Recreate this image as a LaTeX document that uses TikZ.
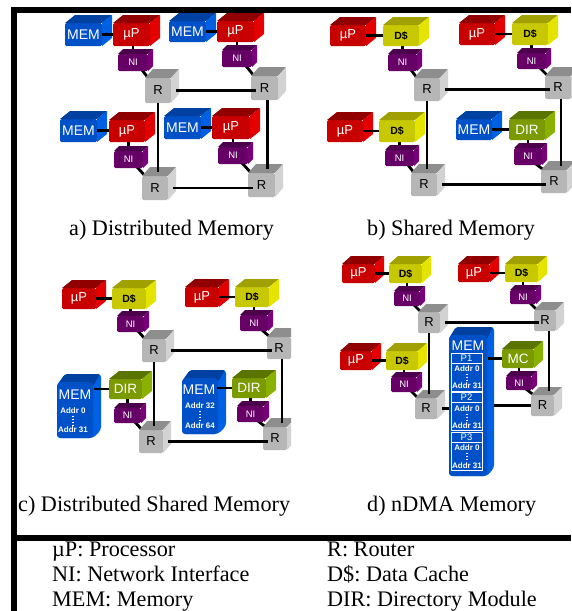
\documentclass[tikz,border=0pt]{standalone}
\usepackage{fontspec}
\setmainfont{Liberation Serif}
\newfontfamily\labfont{Liberation Sans}
\usetikzlibrary{backgrounds}
\definecolor{memF}{HTML}{0050C8}\definecolor{memT}{HTML}{0040A0}\definecolor{memS}{HTML}{0060E4}
\definecolor{upF}{HTML}{C80000}\definecolor{upT}{HTML}{900000}\definecolor{upS}{HTML}{E40000}
\definecolor{dcF}{HTML}{C8C800}\definecolor{dcT}{HTML}{A0A000}\definecolor{dcS}{HTML}{E4E400}
\definecolor{niF}{HTML}{660066}\definecolor{niT}{HTML}{4C004C}\definecolor{niS}{HTML}{780078}
\definecolor{rtF}{HTML}{B6B6B6}\definecolor{rtT}{HTML}{8E8E8E}\definecolor{rtS}{HTML}{D2D2D2}
\definecolor{dirF}{HTML}{7A9A00}\definecolor{dirT}{HTML}{5A7400}\definecolor{dirS}{HTML}{8AB000}
\tikzset{
  bxface/.style={inner sep=0pt,outer sep=0pt,rounded corners=1.5pt,anchor=north west,align=center},
  labmem/.style={text=white,font=\labfont\fontsize{14}{14}\selectfont},
  labup/.style={text=white,font=\labfont\fontsize{13}{13}\selectfont},
  labdir/.style={text=white,font=\labfont\fontsize{13.5}{14}\selectfont},
  labni/.style={text=white,font=\labfont\fontsize{9.5}{10}\selectfont},
  labrt/.style={text=black,font=\labfont\fontsize{13}{13}\selectfont},
  labdc/.style={text=black,font=\labfont\bfseries\fontsize{10.5}{10.5}\selectfont},
  addr/.style={text=white,inner sep=0pt,font=\labfont\bfseries\fontsize{8}{8}\selectfont},
  pbox/.style={draw=white,line width=0.8pt,inner sep=0pt,outer sep=0pt,text=white,font=\labfont\fontsize{9.5}{10}\selectfont},
  addrbox/.style={draw=white,line width=0.8pt,inner sep=0pt,outer sep=0pt},
  link/.style={line width=2.8pt,black},
  dotline/.style={white,line width=1.1pt,dash pattern=on 1.1pt off 1.9pt},
  caption/.style={anchor=base west,inner sep=0pt,font=\fontsize{22.2}{24}\selectfont\frenchspacing},
}
% name, type, x0, y0, x1, y1, dx, dy, label (bounding box in pixels)
\newcommand\bx[9]{%
  \pgfmathsetmacro\bxw{#5-#3-#7}\pgfmathsetmacro\bxh{#6-#4-#8}%
  \node[bxface,fill=#2F,lab#2,minimum width=\bxw pt,minimum height=\bxh pt] (#1) at (#3,{#4+#8}) {#9};
  \fill[#2T] (#1.north west) -- ++(#7,-#8) -- ++(\bxw,0) -- (#1.north east) -- cycle;
  \fill[#2S] (#1.north east) -- ++(#7,-#8) -- ++(0,\bxh) -- (#1.south east) -- cycle;
}
% tall memory block: name, x0, y0, x1, y1, dx, dy
\newcommand\tallbx[7]{%
  \pgfmathsetmacro\bxw{#4-#2-#6}\pgfmathsetmacro\bxh{#5-#3-#7}%
  \fill[memS,rounded corners=3pt] (#2,{#3+#7+3}) -- ({#2+#6},#3) -- (#4,#3) -- (#4,{#5-#7}) -- ({#4-#6},#5) -- (#2,#5) -- cycle;
  \fill[memT,rounded corners=2pt] (#2,{#3+#7+4}) -- ({#2+#6},#3) -- ({#4-1},#3) -- ({#4-#6},{#3+#7+4}) -- cycle;
  \node[bxface,rounded corners=4pt,fill=memF,minimum width=\bxw pt,minimum height=\bxh pt] (#1) at (#2,{#3+#7}) {};
}
\newcommand\hl[2]{\draw[link] (#1.east) -- (#1.east -| #2.west);}
\newcommand\vl[2]{\draw[link] (#2.north) -- (#2.north |- #1.south);}
\newcommand\nr[2]{\draw[link] ([shift={(-6,-1)}]#1.south east) -- ([shift={(4,1)}]#2.north west);}
\newcommand\mesh[4]{%
  \draw[link] ([xshift=5pt]#1.east) -- ([xshift=5pt]#1.east -| #2.west);
  \draw[link] ([xshift=5pt]#3.east) -- ([xshift=5pt]#3.east -| #4.west);
  \draw[link] (#1.south) -- ([yshift=4pt]#1.south |- #3.north);
  \draw[link] ([xshift=3pt]#2.south) -- ([xshift=3pt,yshift=4pt]#2.south |- #4.north);
}
\newcommand\addrs[6]{% prefix, x, y1, y2, text1, text2
  \node[addr] (#1a) at (#2,#3) {#5};
  \node[addr] (#1b) at (#2,#4) {#6};
  \draw[dotline] ([yshift=-1.5pt]#1a.south) -- ([yshift=1.5pt]#1b.north);
}
\begin{document}
\begin{tikzpicture}[x=1pt,y=-1pt]
\useasboundingbox (0,0) rectangle (571,611);
\fill[black] (11,7) rectangle (571,13);
\fill[black] (11,7) rectangle (17,611);
\fill[black] (11,535) rectangle (571,541);

% panel a
\bx{amem1}{mem}{65}{15}{112}{46}{10}{8}{MEM}
\bx{aup1}{up}{113}{15}{160}{46}{10}{8}{µP}
\bx{ani1}{ni}{118}{49}{153}{71}{5}{5}{NI}
\bx{ar1}{rt}{145}{69}{179}{103}{8}{9}{R}
\bx{amem2}{mem}{169}{13}{216}{42}{10}{8}{MEM}
\bx{aup2}{up}{217}{13}{264}{42}{10}{8}{µP}
\bx{ani2}{ni}{222}{45}{257}{67}{5}{5}{NI}
\bx{ar2}{rt}{251}{67}{286}{100}{8}{9}{R}
\bx{amem3}{mem}{60}{111}{107}{142}{10}{8}{MEM}
\bx{aup3}{up}{109}{112}{155}{142}{10}{8}{µP}
\bx{ani3}{ni}{114}{146}{148}{168}{5}{5}{NI}
\bx{ar3}{rt}{142}{167}{176}{200}{8}{9}{R}
\bx{amem4}{mem}{164}{108}{211}{139}{10}{8}{MEM}
\bx{aup4}{up}{212}{108}{260}{139}{10}{8}{µP}
\bx{ani4}{ni}{218}{142}{253}{164}{5}{5}{NI}
\bx{ar4}{rt}{248}{164}{283}{197}{8}{9}{R}
\hl{amem1}{aup1}\hl{amem2}{aup2}\hl{amem3}{aup3}\hl{amem4}{aup4}
\mesh{ar1}{ar2}{ar3}{ar4}
\begin{pgfonlayer}{background}
\vl{aup1}{ani1}\vl{aup2}{ani2}\vl{aup3}{ani3}\vl{aup4}{ani4}
\nr{ani1}{ar1}\nr{ani2}{ar2}\nr{ani3}{ar3}\nr{ani4}{ar4}
\end{pgfonlayer}

% panel b
\bx{bup1}{up}{330}{17}{376}{46}{10}{8}{µP}
\bx{bdc1}{dc}{383}{17}{429}{46}{10}{8}{D\$}
\bx{bni1}{ni}{388}{49}{422}{71}{5}{5}{NI}
\bx{br1}{rt}{414}{69}{448}{101}{8}{9}{R}
\bx{bup2}{up}{459}{15}{505}{45}{10}{8}{µP}
\bx{bdc2}{dc}{512}{15}{558}{45}{10}{8}{D\$}
\bx{bni2}{ni}{517}{48}{551}{69}{5}{5}{NI}
\bx{br2}{rt}{545}{67}{579}{99}{8}{9}{R}
\bx{bup3}{up}{327}{112}{373}{142}{10}{8}{µP}
\bx{bdc3}{dc}{379}{112}{425}{142}{10}{8}{D\$}
\bx{bni3}{ni}{385}{145}{419}{166}{5}{5}{NI}
\bx{br3}{rt}{411}{164}{445}{196}{8}{9}{R}
\bx{bmem}{mem}{456}{111}{502}{140}{10}{8}{MEM}
\bx{bdir}{dir}{509}{111}{555}{140}{10}{8}{DIR}
\bx{bni4}{ni}{514}{143}{547}{165}{5}{5}{NI}
\bx{br4}{rt}{541}{161}{575}{193}{8}{9}{R}
\hl{bup1}{bdc1}\hl{bup2}{bdc2}\hl{bup3}{bdc3}\hl{bmem}{bdir}
\mesh{br1}{br2}{br3}{br4}
\begin{pgfonlayer}{background}
\vl{bdc1}{bni1}\vl{bdc2}{bni2}\vl{bdc3}{bni3}\vl{bdir}{bni4}
\nr{bni1}{br1}\nr{bni2}{br2}\nr{bni3}{br3}\nr{bni4}{br4}
\end{pgfonlayer}

% panel c
\bx{cup1}{up}{62}{280}{106}{309}{10}{8}{µP}
\bx{cdc1}{dc}{112}{280}{156}{309}{10}{8}{D\$}
\bx{cni1}{ni}{117}{311}{149}{332}{5}{5}{NI}
\bx{cr1}{rt}{142}{330}{174}{362}{8}{9}{R}
\bx{cup2}{up}{185}{279}{229}{307}{10}{8}{µP}
\bx{cdc2}{dc}{235}{279}{279}{307}{10}{8}{D\$}
\bx{cni2}{ni}{240}{310}{273}{331}{5}{5}{NI}
\begin{scope}
\clip (255,320) rectangle (291,455);
\bx{cr2}{rt}{267}{328}{299}{359}{8}{9}{R}
\bx{cr4}{rt}{263}{418}{295}{450}{8}{9}{R}
\end{scope}
\tallbx{cmem1}{57}{374}{101}{438}{8}{8}
\node[labmem] (cmem1t) at (75,395) {MEM};
\addrs{cm1}{73}{411}{430}{Addr 0}{Addr 31}
\bx{cdir1}{dir}{109}{371}{152}{399}{10}{8}{DIR}
\bx{cni3}{ni}{114}{403}{146}{423}{5}{5}{NI}
\bx{cr3}{rt}{139}{421}{171}{453}{8}{9}{R}
\tallbx{cmem2}{182}{370}{226}{434}{8}{8}
\node[labmem] (cmem2t) at (199,390) {MEM};
\addrs{cm2}{200}{406}{426}{Addr 32}{Addr 64}
\bx{cdir2}{dir}{232}{370}{276}{398}{10}{8}{DIR}
\bx{cni4}{ni}{237}{401}{269}{422}{5}{5}{NI}
\hl{cup1}{cdc1}\hl{cup2}{cdc2}
\draw[link] ([xshift=1pt]cmem1.east |- cdir1.west) -- (cdir1.west);
\draw[link] ([xshift=-1pt]cmem2.east |- cdir2.west) -- (cdir2.west);
\mesh{cr1}{cr2}{cr3}{cr4}
\begin{pgfonlayer}{background}
\vl{cdc1}{cni1}\vl{cdc2}{cni2}\vl{cdir1}{cni3}\vl{cdir2}{cni4}
\nr{cni1}{cr1}\nr{cni2}{cr2}\nr{cni3}{cr3}\nr{cni4}{cr4}
\end{pgfonlayer}

% panel d
\bx{dup1}{up}{342}{256}{384}{283}{9}{8}{µP}
\bx{ddc1}{dc}{389}{256}{431}{283}{9}{8}{D\$}
\bx{dni1}{ni}{394}{286}{425}{306}{5}{5}{NI}
\bx{dr1}{rt}{418}{304}{448}{333}{8}{8}{R}
\bx{dup2}{up}{458}{256}{499}{282}{9}{8}{µP}
\bx{ddc2}{dc}{505}{256}{547}{282}{9}{8}{D\$}
\bx{dni2}{ni}{510}{285}{541}{304}{5}{5}{NI}
\bx{dr2}{rt}{534}{302}{564}{331}{8}{8}{R}
\bx{dup3}{up}{340}{343}{381}{370}{9}{8}{µP}
\bx{ddc3}{dc}{386}{343}{427}{370}{9}{8}{D\$}
\bx{dni3}{ni}{391}{372}{422}{392}{5}{5}{NI}
\bx{dr3}{rt}{415}{390}{445}{419}{8}{8}{R}
\bx{dmc}{dir}{502}{341}{543}{368}{9}{8}{MC}
\bx{dni4}{ni}{506}{371}{537}{390}{5}{5}{NI}
\bx{dr4}{rt}{531}{387}{562}{416}{8}{8}{R}
\tallbx{dmem}{449}{327}{494}{476}{7}{8}
\node[labmem] (dmemt) at (468,346) {MEM};
\node[pbox,minimum width=31pt,minimum height=10pt] (dp1) at (466.5,358) {P1};
\node[addrbox,minimum width=31pt,minimum height=28pt] (da1) at (466.5,377.5) {};
\addrs{dq1}{467}{369}{386}{Addr 0}{Addr 31}
\node[pbox,minimum width=31pt,minimum height=10pt] (dp2) at (466.5,397.5) {P2};
\node[addrbox,minimum width=31pt,minimum height=28pt] (da2) at (466.5,416.5) {};
\addrs{dq2}{467}{409}{426}{Addr 0}{Addr 31}
\node[pbox,minimum width=31pt,minimum height=10pt] (dp3) at (466.5,437) {P3};
\node[addrbox,minimum width=31pt,minimum height=28pt] (da3) at (466.5,456) {};
\addrs{dq3}{467}{448}{466}{Addr 0}{Addr 31}
\hl{dup1}{ddc1}\hl{dup2}{ddc2}\hl{dup3}{ddc3}
\draw[link] (dmc.west) -- ([xshift=1pt]dmc.west -| dmem.east);
\draw[link] ([xshift=5pt]dr1.east) -- ([xshift=5pt]dr1.east -| dr2.west);
\draw[link] ([xshift=5pt]dr3.east) -- (dr3.east -| dmem.west);
\draw[link] ([xshift=7pt]dmem.east |- dr4.west) -- (dr4.west);
\draw[link] (dr1.south) -- ([yshift=4pt]dr1.south |- dr3.north);
\draw[link] ([xshift=4pt]dr2.south) -- ([xshift=4pt,yshift=4pt]dr2.south |- dr4.north);
\begin{pgfonlayer}{background}
\vl{ddc1}{dni1}\vl{ddc2}{dni2}\vl{ddc3}{dni3}\vl{dmc}{dni4}
\nr{dni1}{dr1}\nr{dni2}{dr2}\nr{dni3}{dr3}\nr{dni4}{dr4}
\end{pgfonlayer}

% captions
\node[caption] (capa) at (69,235) {a) Distributed Memory};
\node[caption] (capb) at (367,235) {b) Shared Memory};
\node[caption] (capc) at (18,511) {c) Distributed Shared Memory};
\node[caption] (capd) at (367,511) {d) nDMA Memory};
% legend
\node[caption] (l1) at (52,556) {µP: Processor};
\node[caption] (l2) at (52,581) {NI: Network Interface};
\node[caption] (l3) at (52,606) {MEM: Memory};
\node[caption] (l4) at (327,556) {R: Router};
\node[caption] (l5) at (327,581) {D\$: Data Cache};
\node[caption] (l6) at (327,606) {DIR: Directory Module};
\end{tikzpicture}
\end{document}
